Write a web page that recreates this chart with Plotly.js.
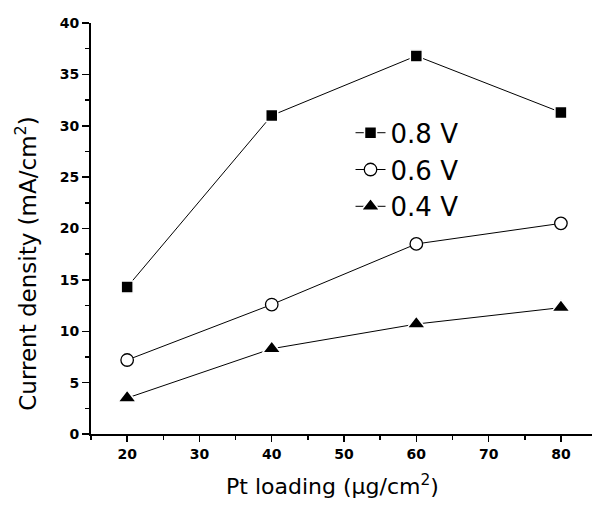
<!DOCTYPE html>
<html>
<head>
<meta charset="utf-8">
<script src="https://cdn.plot.ly/plotly-3.0.1.min.js"></script>
<style>html,body{margin:0;padding:0;background:#fff;}</style>
</head>
<body>
<div id="chart" style="width:592px;height:507px;"></div>
<script>
const ptLoading = [20, 40, 60, 80];
const v08 = [14.3, 31.0, 36.8, 31.3];
const v06 = [7.2, 12.6, 18.5, 20.5];
const v04 = [3.5, 8.3, 10.7, 12.3];
const seriesNames = ["0.8 V", "0.6 V", "0.4 V"];
const xTickVals = [20, 30, 40, 50, 60, 70, 80];
const yTickVals = [0, 5, 10, 15, 20, 25, 30, 35, 40];
const xTitle = "Pt loading (\u03bcg/cm<sup>2</sup>)";
const yTitle = "Current density (mA/cm<sup>2</sup>)";

const lineStyle = {color: "black", width: 1};
const traces = [
  {x: ptLoading, y: v08, name: seriesNames[0], mode: "lines+markers", line: lineStyle,
   marker: {symbol: "square", size: 12, color: "black", line: {color: "white", width: 1.5}}},
  {x: ptLoading, y: v06, name: seriesNames[1], mode: "lines+markers", line: lineStyle,
   marker: {symbol: "circle", size: 12.5, color: "white", line: {color: "black", width: 1.3}}},
  {x: ptLoading, y: v04, name: seriesNames[2], mode: "lines+markers", line: lineStyle,
   marker: {symbol: "triangle-up", size: 16, color: "black", line: {color: "white", width: 1.5}}}
];

const FAM = "DejaVu Sans, Arial, sans-serif";
const tickFont = {family: FAM, size: 14, color: "black"};
const titleFont = {family: FAM, size: 22, color: "black"};
const yTitleFont = {family: FAM, size: 23, color: "black"};
const bold = v => "<b>" + v + "</b>";

const layout = {
  width: 592, height: 507,
  margin: {l: 91, r: 0, t: 23, b: 73},
  paper_bgcolor: "white", plot_bgcolor: "white",
  showlegend: true,
  legend: {x: 0.518, y: 0.79, xanchor: "left", yanchor: "top",
           font: {family: FAM, size: 26, color: "black"},
           bgcolor: "rgba(0,0,0,0)", tracegroupgap: 0},
  xaxis: {
    range: [15, 84.3], tickmode: "array", tickvals: xTickVals, ticktext: xTickVals.map(bold),
    ticks: "outside", ticklen: 6, tickwidth: 1.5,
    tickcolor: "black", showline: true, linewidth: 2, linecolor: "black",
    showgrid: false, zeroline: false, tickfont: tickFont,
    minor: {tickmode: "linear", tick0: 0, dtick: 5, ticks: "outside", ticklen: 4, tickwidth: 1.5, tickcolor: "black", showgrid: false}
  },
  yaxis: {
    range: [0, 40], tickmode: "array", tickvals: yTickVals, ticktext: yTickVals.map(bold),
    ticks: "outside", ticklen: 7, tickwidth: 1.5,
    tickcolor: "black", showline: true, linewidth: 2, linecolor: "black",
    showgrid: false, zeroline: false, tickfont: tickFont,
    minor: {tickmode: "linear", tick0: 0, dtick: 2.5, ticks: "outside", ticklen: 4, tickwidth: 1.5, tickcolor: "black", showgrid: false}
  },
  annotations: [
    {text: yTitle, textangle: -90, showarrow: false, font: yTitleFont,
     xref: "paper", yref: "paper", x: -0.13, y: 0.414, xanchor: "center", yanchor: "middle"},
    {text: xTitle, showarrow: false, font: titleFont,
     xref: "paper", yref: "paper", x: 0.483, y: -0.124, xanchor: "center", yanchor: "middle"}
  ]
};

Plotly.newPlot("chart", traces, layout, {displayModeBar: false, staticPlot: true});
</script>
</body>
</html>
